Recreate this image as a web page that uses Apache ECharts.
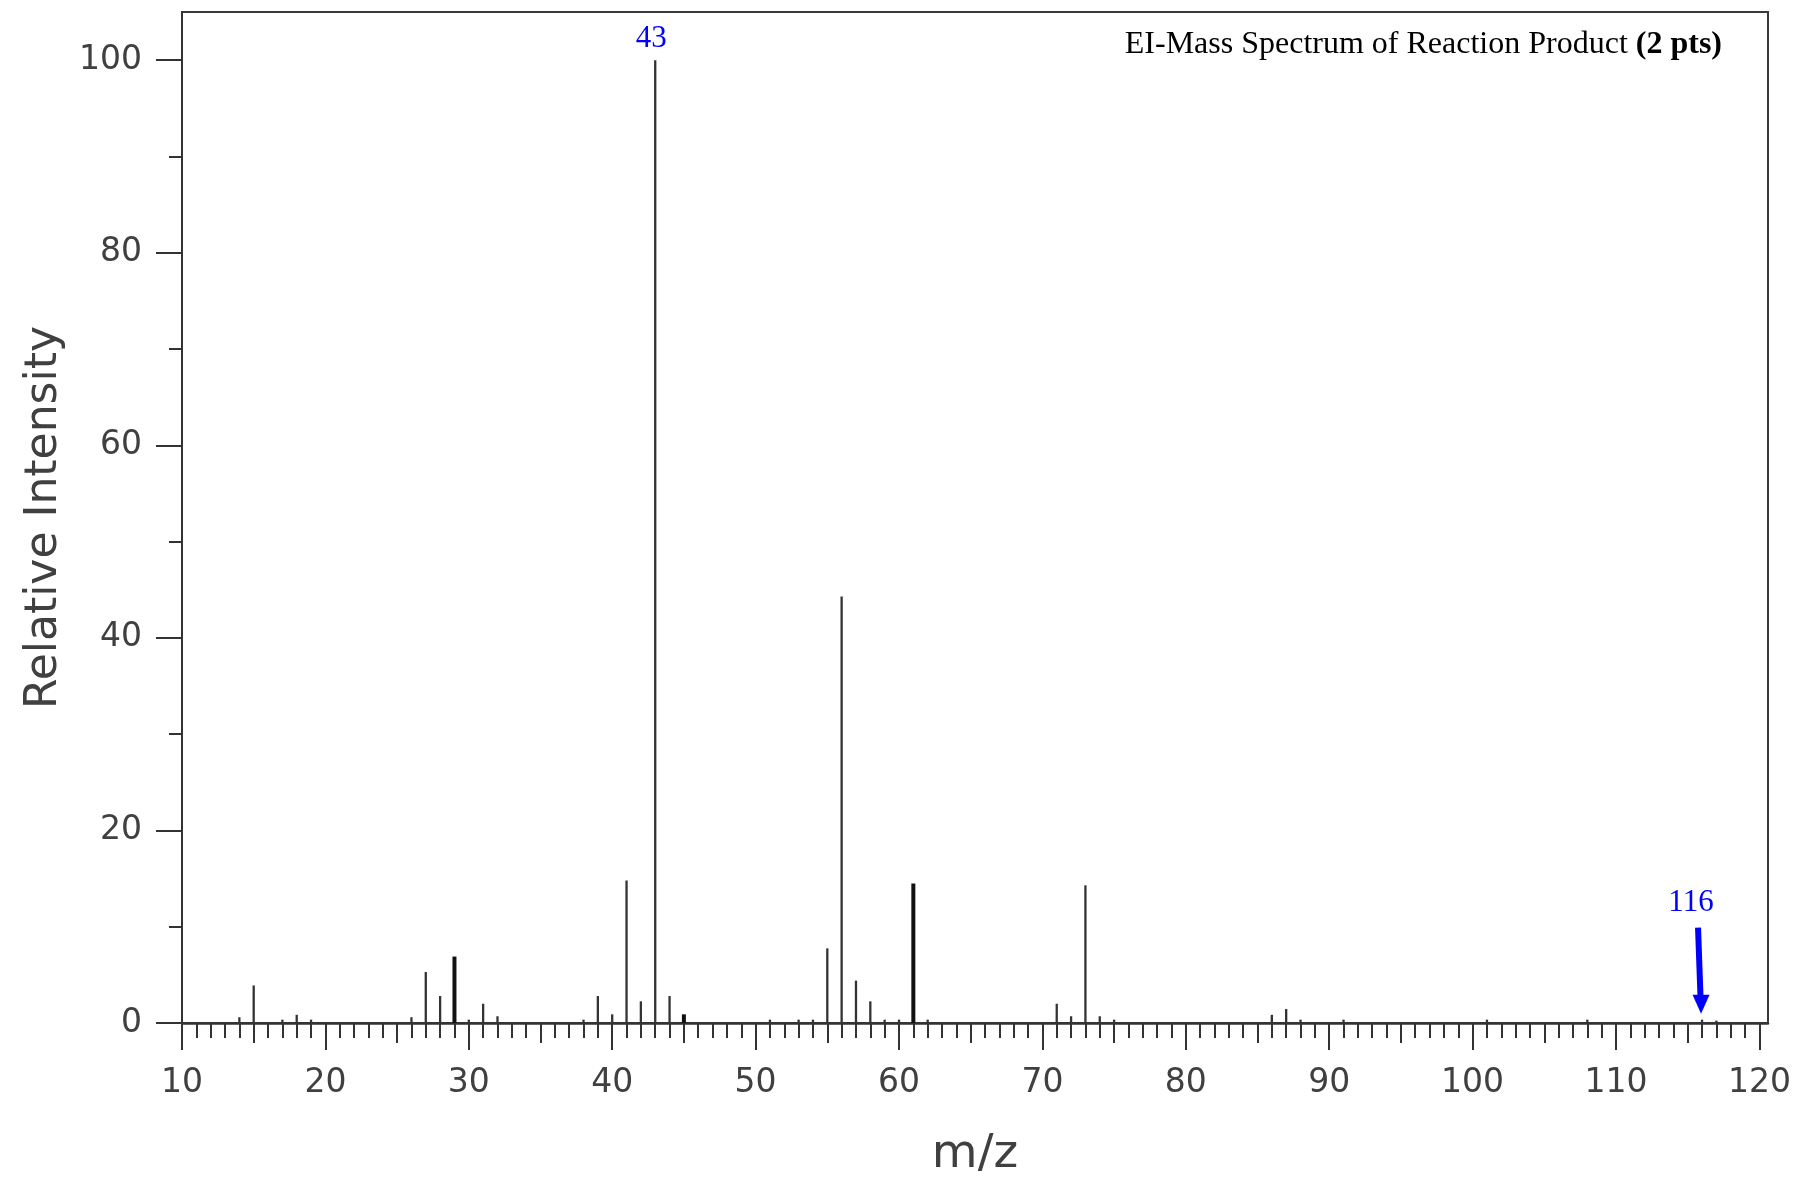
<!DOCTYPE html>
<html>
<head>
<meta charset="utf-8">
<title>EI-Mass Spectrum of Reaction Product</title>
<script src="https://cdn.jsdelivr.net/npm/echarts@6/dist/echarts.min.js"></script>
<style>
    html, body { margin: 0; padding: 0; background: #fff; }
    #spectrum { width: 1799px; height: 1179px; }
</style>
</head>
<body>
<div id="spectrum"></div>
<script>
// peaks: m/z and relative intensity (%)
var mz = [14, 15, 17, 18, 19, 26, 27, 28, 29, 30, 31, 32,
          38, 39, 40, 41, 42, 43, 44, 45, 51, 53, 54,
          55, 56, 57, 58, 59, 60, 61, 62, 71, 72, 73, 74, 75,
          86, 87, 88, 91, 101, 108, 116, 117];
var intensity = [0.6, 3.9, 0.35, 0.85, 0.35, 0.6, 5.3, 2.8, 6.9, 0.35, 2.0, 0.7,
                 0.35, 2.8, 0.9, 14.8, 2.25, 100, 2.8, 0.9, 0.35, 0.35, 0.35,
                 7.75, 44.3, 4.4, 2.25, 0.35, 0.35, 14.5, 0.35, 2.0, 0.7, 14.3, 0.7, 0.35,
                 0.85, 1.45, 0.35, 0.35, 0.35, 0.35, 0.35, 0.25];
// peaks with a blue m/z label
var labelled = [43, 116];

// axis ticks
var xMajorTicks = [10, 20, 30, 40, 50, 60, 70, 80, 90, 100, 110, 120];
var yMajorTicks = [0, 20, 40, 60, 80, 100];
var yMinorTicks = [10, 30, 50, 70, 90];

var chart = echarts.init(document.getElementById('spectrum'));

// every 5 and every 1 m/z get shorter ticks
var xMidTicks = [], xMinorTicks = [];
for (var t = 10; t <= 120; t++) {
    xMinorTicks.push(t);
    if (t % 5 === 0) xMidTicks.push(t);
}

var peakData = mz.map(function (m, i) { return [m, intensity[i]]; });
var labelData = labelled.map(function (m) { return [m, intensity[mz.indexOf(m)]]; });
var widePeaks = [29, 45, 61];

var tickColor = '#333';
var sansFont = 'DejaVu Sans';

function xAxisOf(ticks, len, withLabels) {
    return {
        type: 'value', position: 'bottom', gridIndex: 0,
        min: 10, max: 120.6,
        splitLine: { show: false },
        axisLine: { show: withLabels, onZero: false, lineStyle: { color: '#333', width: 2.5 } },
        axisTick: { show: true, length: len, customValues: ticks, lineStyle: { color: tickColor, width: 2 } },
        axisLabel: {
            show: withLabels, customValues: ticks, margin: 44,
            fontFamily: sansFont, fontSize: 33, color: '#404040'
        },
        name: withLabels ? 'm/z' : '',
        nameLocation: 'middle', nameGap: 108,
        nameTextStyle: { fontFamily: sansFont, fontSize: 47, color: '#404040' }
    };
}

function yAxisOf(ticks, len, withLabels) {
    return {
        type: 'value', position: 'left', gridIndex: 0,
        min: 0, max: 105,
        splitLine: { show: false },
        axisLine: { show: withLabels, lineStyle: { color: '#333', width: 2 } },
        axisTick: { show: true, length: len, customValues: ticks, lineStyle: { color: tickColor, width: 2 } },
        axisLabel: {
            show: withLabels, customValues: ticks, margin: 40,
            fontFamily: sansFont, fontSize: 33, color: '#404040'
        },
        name: withLabels ? 'Relative Intensity' : '',
        nameLocation: 'middle', nameGap: 115,
        nameTextStyle: { fontFamily: sansFont, fontSize: 44, color: '#404040' }
    };
}

var option = {
    animation: false,
    backgroundColor: '#fff',
    title: {
        text: '{n|EI-Mass Spectrum of Reaction Product }{b|(2 pts)}',
        right: 77, top: 29, padding: 0,
        textStyle: {
            fontWeight: 'normal',
            rich: {
                n: { fontFamily: 'Liberation Serif', fontSize: 32, fontWeight: 'normal', color: '#000' },
                b: { fontFamily: 'Liberation Serif', fontSize: 32, fontWeight: 'bold', color: '#000' }
            }
        }
    },
    grid: {
        left: 182, top: 12, right: 31, bottom: 156,
        outerBoundsMode: 'none',
        show: true, borderColor: '#3a3a3a', borderWidth: 2, backgroundColor: '#fff'
    },
    xAxis: [
        xAxisOf(xMajorTicks, 27, true),
        xAxisOf(xMidTicks, 20, false),
        xAxisOf(xMinorTicks, 15, false)
    ],
    yAxis: [
        yAxisOf(yMajorTicks, 26, true),
        yAxisOf(yMinorTicks, 13, false)
    ],
    series: [{
        name: 'peaks',
        type: 'custom',
        xAxisIndex: 0, yAxisIndex: 0,
        renderItem: function (params, api) {
            var x = api.value(0);
            var base = api.coord([x, 0]);
            var top = api.coord([x, api.value(1)]);
            var wide = widePeaks.indexOf(x) >= 0;
            return {
                type: 'line',
                shape: { x1: base[0], y1: base[1], x2: top[0], y2: top[1] },
                style: { stroke: wide ? '#111' : '#333', lineWidth: wide ? 4 : 2.3 }
            };
        },
        data: peakData
    }, {
        name: 'labels',
        type: 'custom',
        xAxisIndex: 0, yAxisIndex: 0,
        renderItem: function (params, api) {
            var m = api.value(0);
            var p = api.coord([m, api.value(1)]);
            var font = '31px "Liberation Serif"';
            if (api.value(1) > 20) {
                return {
                    type: 'text',
                    style: { text: String(m), x: p[0] - 4, y: p[1] - 21, align: 'center', verticalAlign: 'middle', fill: '#0000ff', font: font }
                };
            }
            // small peak: label plus arrow pointing down at it
            return {
                type: 'group',
                children: [{
                    type: 'text',
                    style: { text: String(m), x: p[0] - 11, y: p[1] - 117, align: 'center', verticalAlign: 'middle', fill: '#0000ff', font: font }
                }, {
                    type: 'line',
                    shape: { x1: p[0] - 4, y1: p[1] - 92, x2: p[0] - 1.5, y2: p[1] - 22 },
                    style: { stroke: '#0000ff', lineWidth: 6 }
                }, {
                    type: 'polygon',
                    shape: { points: [[p[0] - 1, p[1] - 6], [p[0] - 9.5, p[1] - 25], [p[0] + 7.5, p[1] - 25]] },
                    style: { fill: '#0000ff' }
                }]
            };
        },
        data: labelData
    }]
};

chart.setOption(option);
</script>
</body>
</html>
